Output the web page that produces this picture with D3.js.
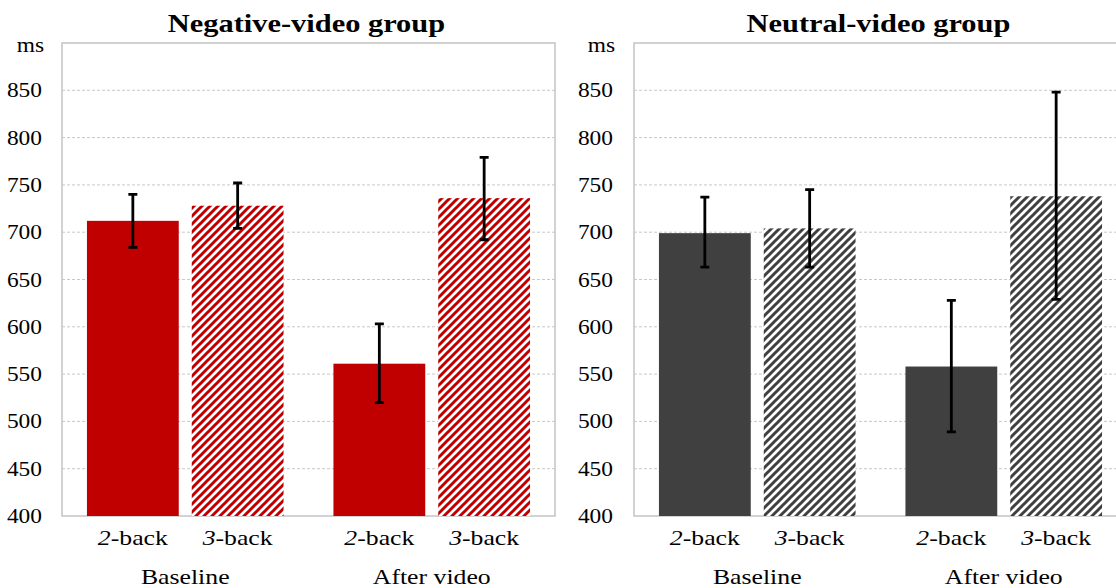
<!DOCTYPE html>
<html>
<head>
<meta charset="utf-8">
<script src="https://cdn.jsdelivr.net/npm/d3@7"></script>
<style>
  body { margin: 0; background: #fff; }
  text { font-family: "Liberation Serif", "Times New Roman", serif; fill: #000; }
</style>
</head>
<body>
<svg id="chart" width="1116" height="588"></svg>
<script>
'use strict';

// data
const groups = ["Baseline", "After video"];
const tasks = ["2", "3"];
const yTicks = [400, 450, 500, 550, 600, 650, 700, 750, 800, 850];

const negMeans = [712, 728, 561, 736];
const negLow   = [684, 704, 520, 692];
const negHigh  = [740, 752, 603, 779];

const neuMeans = [699, 704, 558, 738];
const neuLow   = [663, 663, 489, 629];
const neuHigh  = [737, 745, 628, 848];

const panels = [
  { title: "Negative-video group", color: "#c00000", means: negMeans, low: negLow, high: negHigh, left: 62, labelX: 43 },
  { title: "Neutral-video group",  color: "#404040", means: neuMeans, low: neuLow, high: neuHigh, left: 634, labelX: 614 }
];

const svg = d3.select("#chart");
const sx = 1.17;   // the original picture is a bit stretched sideways
const plotW = 493, plotTop = 43, plotBottom = 516;

const y = d3.scaleLinear().domain([400, 900]).range([plotBottom, plotTop]);

// hatch patterns
const defs = svg.append("defs");
panels.forEach((p, k) => {
  const pat = defs.append("pattern")
      .attr("id", "hatch" + k)
      .attr("patternUnits", "userSpaceOnUse")
      .attr("width", 8).attr("height", 8);
  pat.append("rect").attr("width", 8).attr("height", 8).attr("fill", "#fff");
  pat.append("path")
      .attr("d", "M-2,2 L2,-2 M0,8 L8,0 M6,10 L10,6")
      .attr("stroke", p.color)
      .attr("stroke-width", 3);
});

const stretched = (g, x, yy, str, anchor) => g.append("text")
    .attr("transform", "translate(" + x + "," + yy + ") scale(" + sx + ",1)")
    .attr("text-anchor", anchor)
    .text(str);

panels.forEach((p, k) => {
  const g = svg.append("g");
  const x0 = d3.scaleBand().domain(groups).range([p.left, p.left + plotW]);
  const x1 = d3.scaleBand().domain(tasks).range([0, x0.bandwidth()])
      .paddingInner(0.124).paddingOuter(0.238);

  // gridlines
  g.selectAll(".grid")
    .data(yTicks.slice(1))
    .enter().append("line")
      .attr("x1", p.left).attr("x2", p.left + plotW)
      .attr("y1", d => y(d)).attr("y2", d => y(d))
      .attr("stroke", "#c8c8c8")
      .attr("stroke-width", 1)
      .attr("stroke-dasharray", "3,2");

  // frame
  g.append("rect")
      .attr("x", p.left).attr("y", plotTop)
      .attr("width", plotW).attr("height", plotBottom - plotTop)
      .attr("fill", "none")
      .attr("stroke", "#c4c4c4")
      .attr("stroke-width", 1.5);

  // bars
  const rows = [];
  groups.forEach((grp, i) => tasks.forEach((t, j) => {
    const n = i * 2 + j;
    rows.push({ grp: grp, t: t, v: p.means[n], lo: p.low[n], hi: p.high[n] });
  }));

  g.selectAll(".bar")
    .data(rows)
    .enter().append("rect")
      .attr("x", d => x0(d.grp) + x1(d.t))
      .attr("y", d => y(d.v))
      .attr("width", x1.bandwidth())
      .attr("height", d => y(400) - y(d.v))
      .attr("fill", d => d.t === "2" ? p.color : "url(#hatch" + k + ")");

  // error bars
  const cx = d => x0(d.grp) + x1(d.t) + x1.bandwidth() / 2;
  g.selectAll(".err")
    .data(rows)
    .enter().append("path")
      .attr("d", d => "M" + cx(d) + "," + y(d.hi) + "V" + y(d.lo) +
        "M" + (cx(d) - 4.5) + "," + y(d.hi) + "h9" +
        "M" + (cx(d) - 4.5) + "," + y(d.lo) + "h9")
      .attr("stroke", "#000")
      .attr("stroke-width", 2.8)
      .attr("fill", "none");

  // y tick labels
  yTicks.forEach(v => {
    stretched(g, p.labelX - 1, y(v) + 7, v, "end").style("font-size", "20px");
  });
  stretched(g, p.labelX + 1, 52, "ms", "end").style("font-size", "20px");

  // category labels
  rows.forEach(d => {
    const t = stretched(g, cx(d), 545, "", "middle").style("font-size", "22px");
    t.append("tspan").style("font-style", "italic").text(d.t);
    t.append("tspan").text("-back");
  });
  groups.forEach(grp => {
    stretched(g, x0(grp) + x0.bandwidth() / 2, 584, grp, "middle").style("font-size", "22px");
  });

  // title
  stretched(g, p.left + plotW / 2 - 2, 32, p.title, "middle")
      .style("font-size", "26px")
      .style("font-weight", "bold");
});
</script>
</body>
</html>
